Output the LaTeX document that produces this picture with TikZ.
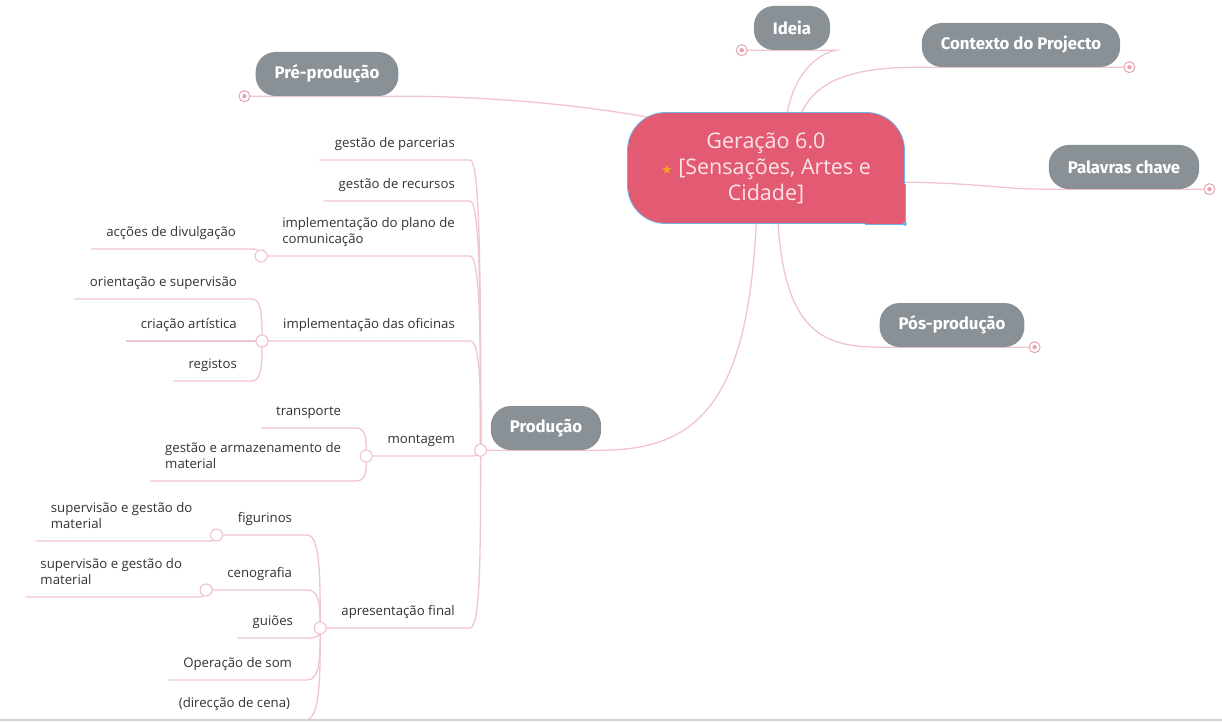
\documentclass[tikz,border=0pt]{standalone}
\usepackage{fontspec}
\setmainfont{Open Sans}
\newfontfamily\pillfont{Fira Sans}
\newfontfamily\symfont{DejaVu Sans}
\usetikzlibrary{positioning, calc, backgrounds}

\definecolor{rootred}{HTML}{E35A73}
\definecolor{rootedge}{HTML}{6CB4EA}
\definecolor{roottext}{HTML}{FBE3E7}
\definecolor{pillgray}{HTML}{8A9196}
\definecolor{linkpink}{HTML}{F0C5CD}
\definecolor{dotpink}{HTML}{E8A3B1}
\definecolor{leaftext}{HTML}{333333}
\definecolor{starorange}{HTML}{F4A224}

% curve from a knob to the right end of a child's underline
\newcommand{\drawbranch}[2]{%
  \draw[branchline] (#1) .. controls ($(#1)!0.55!(#1 |- #2.south east)$) and (#1 |- #2.south east) .. (#2.south east) -- (#2.south west);}

\begin{document}
\begin{tikzpicture}[
    x=1pt, y=-1pt,
    rootbox/.style={fill=rootred, draw=rootedge, line width=0.8pt, rounded corners=38pt,
        minimum width=277pt, minimum height=111pt, text=roottext, align=center,
        font=\fontsize{21.5}{26}\selectfont},
    topicpill/.style={rounded corners=20pt, fill=pillgray, text=white,
        font=\pillfont\bfseries\fontsize{16.8}{18}\selectfont, minimum height=44pt, inner xsep=19pt},
    leaflabel/.style={anchor=south east, inner xsep=15pt, inner ysep=9pt, text depth=3pt,
        align=left, text=leaftext, font=\fontsize{13.2}{16}\selectfont},
    branchline/.style={draw=linkpink, line width=1.3pt},
    knob/.style={circle, draw=linkpink, fill=white, line width=1.2pt, minimum size=12pt, inner sep=0pt},
    enddot/.style={circle, draw=dotpink, fill=white, line width=1pt, minimum size=11pt, inner sep=0pt,
        path picture={\fill[dotpink] (path picture bounding box.center) circle (2.2pt);}}
]
    \useasboundingbox (0,0) rectangle (1222,722);

    % === Central topic ===
    \node[rootbox] (root) at (766,168) {Geração 6.0\\{\symfont\color{starorange}\fontsize{13}{13}\selectfont ★} [Sensações, Artes e\\Cidade]};
    \fill[rootred] ($(root.south east)+(-40,-0.4)$) rectangle ($(root.south east)+(-0.4,-40)$);
    \draw[rootedge, line width=0.8pt] ($(root.south east)+(-40,0)$) -- (root.south east) -- ($(root.south east)+(0,-40)$);
    \fill[rootedge] (root.south east) circle (2pt);

    % === Main topics ===
    \node[topicpill] (ideia) at (792,28) {Ideia};
    \node[topicpill] (ctx) at (1021,45) {Contexto do Projecto};
    \node[topicpill] (pre) at (327,74) {Pré-produção};
    \node[topicpill] (pal) at (1124,167) {Palavras chave};
    \node[topicpill] (pos) at (952,325) {Pós-produção};
    \node[topicpill] (prod) at (546,428) {Produção};

    \node[enddot] (dIde) at ($(ideia.south west)+(-12,0)$) {};
    \node[enddot] (dCtx) at ($(ctx.south east)+(9,0)$) {};
    \node[enddot] (dPre) at ($(pre.south west)+(-11,0)$) {};
    \node[enddot] (dPal) at ($(pal.south east)+(10,0)$) {};
    \node[enddot] (dPos) at ($(pos.south east)+(10,0)$) {};
    \coordinate (ideEnd) at ($(ideia.south east)+(6,0)$);
    \coordinate (kProd) at ($(prod.south west)+(-10,0)$);

    % === Produção children ===
    \node[leaflabel] (parc) at (470,160) {gestão de parcerias};
    \node[leaflabel] (recu) at (470,201) {gestão de recursos};
    \node[leaflabel] (plano) at (470,256) {implementação do plano de\\comunicação};
    \node[leaflabel] (ofic) at (470,341) {implementação das oficinas};
    \node[leaflabel] (mont) at (470,456) {montagem};
    \node[leaflabel] (apres) at (470,628) {apresentação final};

    \coordinate (kPlano) at ($(plano.south west)+(-6,0)$);
    \coordinate (kOfic) at ($(ofic.south west)+(-6,0)$);
    \coordinate (kMont) at ($(mont.south west)+(-6,0)$);
    \coordinate (kApres) at ($(apres.south west)+(-6,0)$);

    \node[leaflabel, xshift=-10pt] (divul) at (kPlano |- 0,249) {acções de divulgação};
    \node[leaflabel, xshift=-10pt] (orient) at (kOfic |- 0,299) {orientação e supervisão};
    \node[leaflabel, xshift=-10pt] (criac) at (kOfic |- 0,341) {criação artística};
    \node[leaflabel, xshift=-10pt] (regis) at (kOfic |- 0,381) {registos};
    \node[leaflabel, xshift=-10pt] (transp) at (kMont |- 0,428) {transporte};
    \node[leaflabel, xshift=-10pt] (armaz) at (kMont |- 0,481) {gestão e armazenamento de\\material};
    \node[leaflabel, xshift=-13pt] (figur) at (kApres |- 0,535) {figurinos};
    \node[leaflabel, xshift=-13pt] (cenog) at (kApres |- 0,590) {cenografia};
    \node[leaflabel, xshift=-12pt] (guioes) at (kApres |- 0,638) {guiões};
    \node[leaflabel, xshift=-13pt] (opsom) at (kApres |- 0,680) {Operação de som};
    \node[leaflabel, xshift=-15pt] (direc) at (kApres |- 0,720) {(direcção de cena)};

    \coordinate (kFig) at ($(figur.south west)+(-6,0)$);
    \coordinate (kCeno) at ($(cenog.south west)+(-6,0)$);
    \node[leaflabel, xshift=-9pt] (supfig) at (kFig |- 0,541) {supervisão e gestão do\\material};
    \node[leaflabel, xshift=-9pt] (supcen) at (kCeno |- 0,597) {supervisão e gestão do\\material};

    % === Connectors ===
    \begin{pgfonlayer}{background}
        \fill[white] (0,0) rectangle (1222,722);
        \draw[branchline] (700,128) .. controls (600,104) and (480,96) .. (pre.south east) -- (pre.south west) -- (dPre);
        \draw[branchline] (785,140) .. controls (785,80) and (815,54) .. (ideEnd) -- (dIde);
        \draw[branchline] (795,140) .. controls (800,80) and (850,67) .. (ctx.south west) -- (ctx.south east) -- (dCtx);
        \draw[branchline] (880,182) .. controls (980,182) and (990,189) .. (pal.south west) -- (pal.south east) -- (dPal);
        \draw[branchline] (777,200) .. controls (780,330) and (820,347) .. (pos.south west) -- (pos.south east) -- (dPos);
        \draw[branchline] (757,200) .. controls (752,400) and (700,450) .. (prod.south east) -- (prod.south west) -- (kProd);

        \foreach \child in {parc, recu, plano, ofic, mont, apres}
            {\drawbranch{kProd}{\child}}
        \drawbranch{kPlano}{divul}
        \foreach \child in {orient, criac, regis}
            {\drawbranch{kOfic}{\child}}
        \foreach \child in {transp, armaz}
            {\drawbranch{kMont}{\child}}
        \foreach \child in {figur, cenog, guioes, opsom, direc}
            {\drawbranch{kApres}{\child}}
        \drawbranch{kFig}{supfig}
        \drawbranch{kCeno}{supcen}
    \end{pgfonlayer}

    \foreach \k in {kProd, kPlano, kOfic, kMont, kApres, kFig, kCeno}
        \node[knob] at (\k) {};

    % bottom edge of the canvas
    \draw[gray!35, line width=1.5pt] (0,720) -- (1222,720);
\end{tikzpicture}
\end{document}
